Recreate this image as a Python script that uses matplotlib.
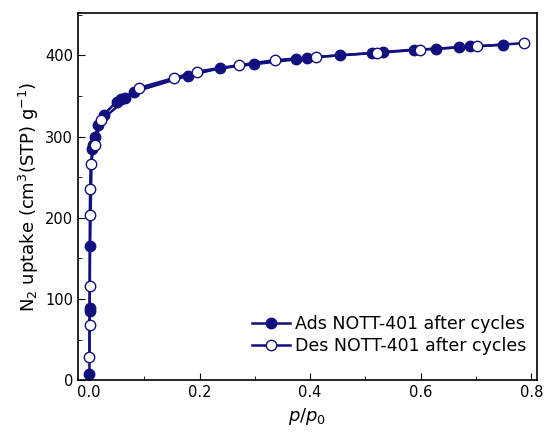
import numpy as np
import matplotlib
matplotlib.use("Agg")
import matplotlib.pyplot as plt
from matplotlib.ticker import MultipleLocator

# adsorption branch (filled)
ads_p = [0.0008, 0.001, 0.0012, 0.002, 0.005, 0.007, 0.011, 0.017, 0.027,
         0.05, 0.057, 0.066, 0.082, 0.179, 0.237, 0.298, 0.374, 0.395,
         0.454, 0.512, 0.531, 0.588, 0.628, 0.669, 0.690, 0.749]
ads_n = [8, 85, 89, 165, 285, 289, 300, 314, 327,
         343, 346, 348, 355, 375, 384, 389, 395, 397,
         400, 403, 404, 407, 408, 410, 411, 413]

# desorption branch (open)
des_p = [0.786, 0.701, 0.599, 0.521, 0.410, 0.336, 0.272, 0.195, 0.153,
         0.091, 0.022, 0.010, 0.003, 0.002, 0.0015, 0.0012, 0.001, 0.0008]
des_n = [415, 411, 407, 403, 398, 394, 388, 380, 372,
         360, 320, 290, 266, 235, 204, 116, 68, 29]

navy = "#10107f"

fig = plt.figure(figsize=(5.45, 4.36), dpi=100)
ax = fig.add_axes([0.143, 0.128, 0.842, 0.842])

ax.plot(ads_p, ads_n, "-o", color=navy, lw=1.8, ms=7.5, mfc=navy, mec=navy,
        label="Ads NOTT-401 after cycles")
ax.plot(des_p, des_n, "-o", color=navy, lw=1.8, ms=7.5, mfc="white", mec=navy,
        label="Des NOTT-401 after cycles")

ax.set_xlim(-0.02, 0.81)
ax.set_ylim(0, 452)
ax.xaxis.set_major_locator(MultipleLocator(0.2))
ax.xaxis.set_minor_locator(MultipleLocator(0.1))
ax.yaxis.set_major_locator(MultipleLocator(100))
ax.yaxis.set_minor_locator(MultipleLocator(50))
ax.xaxis.set_major_formatter(matplotlib.ticker.FormatStrFormatter("%.1f"))
ax.tick_params(which="both", direction="in", labelsize=10.5, top=False, right=False)
ax.tick_params(which="major", length=5)
ax.tick_params(which="minor", length=3)
for s in ax.spines.values():
    s.set_linewidth(1.2)

ax.set_xlabel("$p$/$p_0$", fontsize=13, labelpad=4)
ax.set_ylabel("N$_2$ uptake (cm$^3$(STP) g$^{-1}$)", fontsize=13, labelpad=3)

ax.legend(loc="lower right", frameon=False, fontsize=12.5, handlelength=2.2,
          borderaxespad=0.2, handletextpad=0.3, labelspacing=0.25,
          bbox_to_anchor=(1.0, 0.04))

fig.savefig("out.png", dpi=100)
